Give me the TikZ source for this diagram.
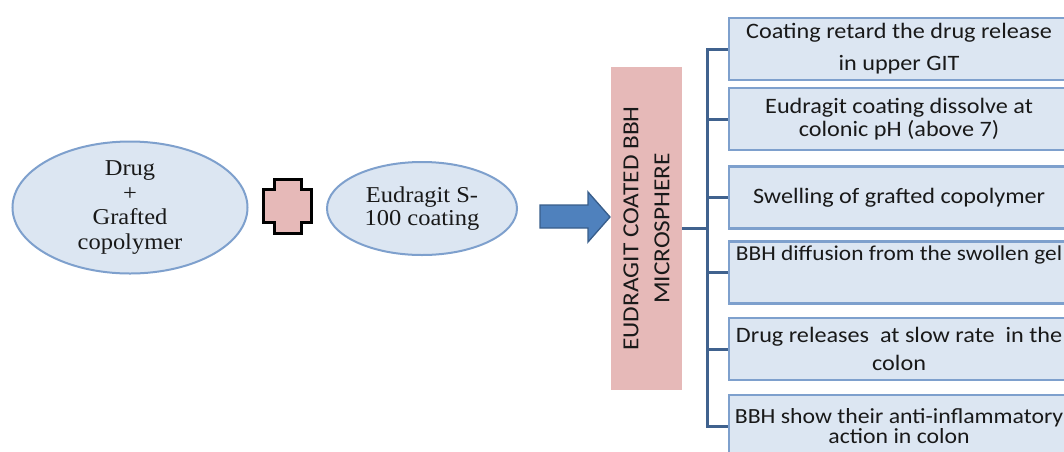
\documentclass[tikz,border=0pt]{standalone}
\usepackage{fontspec}
\usetikzlibrary{shapes.geometric}
\newfontfamily\calfont{Carlito}[FakeStretch=1.1]
\newfontfamily\timesfont{Liberation Serif}[FakeStretch=1.08]
\definecolor{boxfill}{RGB}{220,230,242}
\definecolor{boxline}{RGB}{126,160,205}
\definecolor{brline}{RGB}{64,98,142}
\definecolor{pinkfill}{RGB}{230,185,184}
\definecolor{arrfill}{RGB}{79,129,189}
\definecolor{arrline}{RGB}{56,93,138}
\definecolor{txt}{RGB}{25,25,25}

\begin{document}
\begin{tikzpicture}[x=0.75pt,y=0.75pt,yscale=-1,xscale=1,
    oval/.style={ellipse, draw=boxline, fill=boxfill, line width=1.5pt, inner sep=0pt, align=center, text=txt, font={\timesfont\fontsize{17}{18.4}\selectfont}},
    stepbox/.style={rectangle, draw=boxline, fill=boxfill, line width=1.6pt, minimum width=255pt, minimum height=46.5pt, inner sep=0pt, anchor=west, align=center, text=txt, font={\calfont\fontsize{16.5}{18}\selectfont}},
    bracket/.style={draw=brline, line width=2.25pt}]
    \useasboundingbox (0,0) rectangle (1064,451);

    %Shape: Ellipse [drug + copolymer]
    \node [oval, minimum width=176.25pt, minimum height=98.25pt] (drug) at (130,207.5) {Drug\\+\\Grafted\\copolymer};
    %Shape: Cross
    \draw [fill=pinkfill, line width=2.25pt, line join=miter] (263,189) -- (274,189) -- (274,179) -- (301,179) -- (301,189) -- (311,189) -- (311,222) -- (301,222) -- (301,233) -- (274,233) -- (274,222) -- (263,222) -- cycle ;
    %Shape: Ellipse [coating]
    \node [oval, minimum width=142.5pt, minimum height=69.75pt, font={\timesfont\fontsize{17}{17.5}\selectfont}] (coat) at (422,208.5) {Eudragit S-\\100 coating};
    %Shape: Right Arrow
    \draw [fill=arrfill, draw=arrline, line width=1pt] (540,205) -- (588,205) -- (588,192) -- (610,217) -- (588,242) -- (588,228) -- (540,228) -- cycle ;

    %Shape: Rectangle [microsphere]
    \node [rectangle, rotate=90, fill=pinkfill, minimum width=242.25pt, minimum height=53.25pt, inner sep=0pt, align=center, text=txt, font={\calfont\fontsize{17.25}{23.25}\selectfont}] (micro) at (646.5,228.5) {EUDRAGIT COATED BBH\\MICROSPHERE};

    % Boxes
    \node [stepbox] (box1) at (728,49) {Coating retard the drug release\\[6pt]in upper GIT};
    \node [stepbox] (box2) at (728,119) {Eudragit coating dissolve at\\[-1pt]colonic pH (above 7)};
    \node [stepbox] (box3) at (728,197.5) {Swelling of grafted copolymer};
    \node [stepbox, font={\calfont\fontsize{15.9}{18}\selectfont}] (box4) at (728,272.5) {BBH diffusion from the swollen gel\\[6pt]\strut};
    \node [stepbox] (box5) at (728,349) {Drug releases\ \ at slow rate\ \ in the\\[3pt]colon};
    \node [stepbox, font={\calfont\fontsize{16.2}{18}\selectfont}] (box6) at (728,426) {BBH show their anti-inflammatory\\[-3pt]action in colon};

    % Bracket
    \coordinate (hub) at (707,228.5);
    \draw [bracket] (micro) -- (hub);
    \draw [bracket] (box1.west) -| (hub) |- (box6.west);
    \foreach \b in {box2,box3,box4,box5}
        \draw [bracket] (\b.west) -- (\b.west -| hub);

\end{tikzpicture}
\end{document}
